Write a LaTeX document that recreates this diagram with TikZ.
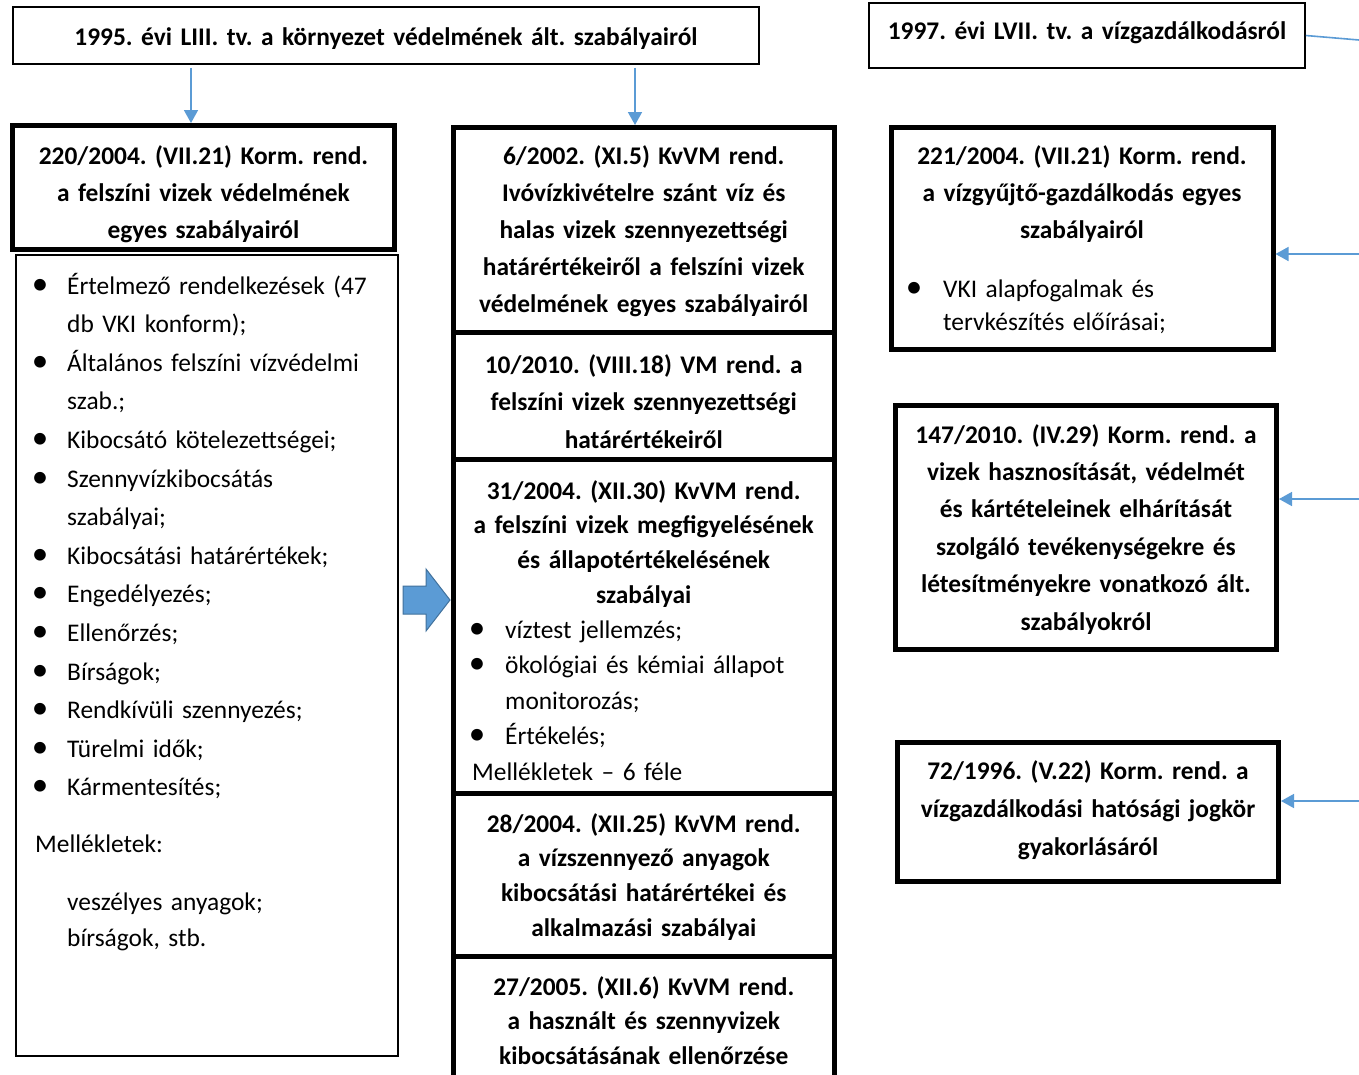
\documentclass[tikz,border=0pt]{standalone}
\usepackage{fontspec}
\setmainfont{Carlito}
\usetikzlibrary{arrows.meta}
\definecolor{linkblue}{HTML}{5B9BD5}
\definecolor{linkedge}{HTML}{41719C}
\frenchspacing
% bullet hanging to the left of the item text
\newcommand\bul[1][27pt]{\leavevmode\llap{\makebox[0pt]{\scalebox{1.3}{\textbullet}}\hspace{#1}}\ignorespaces}
\newcommand\txtsize[1]{\fontsize{25.4}{#1}\selectfont}

\begin{document}
\begin{tikzpicture}[x=1pt,y=-1pt,
  thinbox/.style={draw, line width=1.6pt, inner sep=0pt},
  thickbox/.style={draw, line width=5pt, inner sep=0pt},
  boxtitle/.style={anchor=base, align=center, inner sep=0pt, text width=372pt,
    font=\bfseries\txtsize{#1}},
  boxtitle/.default=37,
  boxbody/.style={anchor=base west, align=left, inner sep=0pt, text width=340pt,
    font=\txtsize{#1}},
  boxbody/.default=38.6,
  link/.style={draw=linkblue, line width=1.6pt},
  arr/.style={link, -{Triangle[width=14pt,length=13pt]}},
]
\fill[white] (0,0) rectangle (1359,1074);
\useasboundingbox (0,0) rectangle (1359,1074);

% --- acts at the top ---
\node[thinbox, minimum width=746pt, minimum height=57pt] (top1) at (386,35.5) {};
\node[boxtitle, text width=740pt] (ttop1) at (386,45)
  {1995. évi LIII. tv. a környezet védelmének ált. szabályairól};
\node[thinbox, minimum width=436pt, minimum height=65pt] (top2) at (1087,35.5) {};
\node[boxtitle, text width=430pt] (ttop2) at (1087,39)
  {1997. évi LVII. tv. a vízgazdálkodásról};

% --- left column ---
\node[thinbox, minimum width=382pt, minimum height=801pt] (l220) at (207,655.5) {};
\node[thickbox, minimum width=382pt, minimum height=123.5pt] (b220) at (203.5,187.25) {};
\node[boxtitle] (t220) at (203.5,164)
  {220/2004. (VII.21) Korm. rend.\\a felszíni vizek védelmének\\egyes szabályairól};
\node[boxbody] (items220) at (67,294)
  {\bul Értelmező rendelkezések (47\\
   db VKI konform);\\
   \bul Általános felszíni vízvédelmi\\
   szab.;\\
   \bul Kibocsátó kötelezettségei;\\
   \bul Szennyvízkibocsátás\\
   szabályai;\\
   \bul Kibocsátási határértékek;\\
   \bul Engedélyezés;\\
   \bul Ellenőrzés;\\
   \bul Bírságok;\\
   \bul Rendkívüli szennyezés;\\
   \bul Türelmi idők;\\
   \bul Kármentesítés;};
\node[boxbody] (mell220) at (35,852) {Mellékletek:};
\node[boxbody=36] (annex220) at (67,910) {veszélyes anyagok;\\bírságok, stb.};

% --- middle column ---
\node[thickbox, minimum width=380.5pt, minimum height=204.5pt] (m1) at (643.75,229.75) {};
\node[thickbox, minimum width=380.5pt, minimum height=127pt] (m2) at (643.75,395.5) {};
\node[thickbox, minimum width=380.5pt, minimum height=334.5pt] (m3) at (643.75,626.25) {};
\node[thickbox, minimum width=380.5pt, minimum height=162.5pt] (m4) at (643.75,874.75) {};
\node[thickbox, minimum width=380.5pt, minimum height=150pt] (m5) at (643.75,1031) {};

\node[boxtitle=37.2] (tm1) at (643.75,164)
  {6/2002. (XI.5) KvVM rend.\\Ivóvízkivételre szánt víz és\\halas vizek szennyezettségi\\határértékeiről a felszíni vizek\\védelmének egyes szabályairól};
\node[boxtitle=37.5] (tm2) at (643.75,373)
  {10/2010. (VIII.18) VM rend. a\\felszíni vizek szennyezettségi\\határértékeiről};
\node[boxtitle=34.7] (tm3) at (643.75,499)
  {31/2004. (XII.30) KvVM rend.\\a felszíni vizek megfigyelésének\\és állapotértékelésének\\szabályai};
\node[boxbody=35.5] (items3) at (505,638)
  {\bul[28pt] víztest jellemzés;\\
   \bul[28pt] ökológiai és kémiai állapot\\
   monitorozás;\\
   \bul[28pt] Értékelés;};
\node[boxbody] (mell3) at (472,780) {Mellékletek – 6 féle};
\node[boxtitle=34.7] (tm4) at (643.75,832)
  {28/2004. (XII.25) KvVM rend.\\a vízszennyező anyagok\\kibocsátási határértékei és\\alkalmazási szabályai};
\node[boxtitle=34.5] (tm5) at (643.75,995)
  {27/2005. (XII.6) KvVM rend.\\a használt és szennyvizek\\kibocsátásának ellenőrzése};

% --- right column ---
\node[thickbox, minimum width=382pt, minimum height=222pt] (r1) at (1082,238.5) {};
\node[boxtitle] (tr1) at (1082,164)
  {221/2004. (VII.21) Korm. rend.\\a vízgyűjtő-gazdálkodás egyes\\szabályairól};
\node[boxbody=33] (itemsr1) at (943,297)
  {\bul[29pt] VKI alapfogalmak és\\tervkészítés előírásai;};
\node[thickbox, minimum width=381pt, minimum height=244pt] (r2) at (1086,527.5) {};
\node[boxtitle=37.4] (tr2) at (1086,443)
  {147/2010. (IV.29) Korm. rend. a\\vizek hasznosítását, védelmét\\és kártételeinek elhárítását\\szolgáló tevékenységekre és\\létesítményekre vonatkozó ált.\\szabályokról};
\node[thickbox, minimum width=381pt, minimum height=139pt] (r3) at (1088,812) {};
\node[boxtitle=38] (tr3) at (1088,779)
  {72/1996. (V.22) Korm. rend. a\\vízgazdálkodási hatósági jogkör\\gyakorlásáról};

% --- connectors ---
\coordinate (a1) at (191,0);
\coordinate (a2) at (635,0);
\draw[arr, shorten <=3pt] (top1.south -| a1) -- (b220.north -| a1);
\draw[arr, shorten <=3pt] (top1.south -| a2) -- (m1.north -| a2);

\coordinate (e0) at (1359,40);
\coordinate (e1) at (1359,254);
\coordinate (e2) at (1359,499);
\coordinate (e3) at (1359,801);
\draw[link] (top2.east) -- (e0);
\draw[arr] (e1) -- (e1 -| r1.east);
\draw[arr] (e2) -- (e2 -| r2.east);
\draw[arr] (e3) -- (e3 -| r3.east);

% block arrow pointing from the left list to the middle column
\filldraw[fill=linkblue, draw=linkedge, line width=1pt]
  (403,586) -- (426,586) -- (426,569) -- (450,600) -- (426,631)
  -- (426,614) -- (403,614) -- cycle;
\end{tikzpicture}
\end{document}
